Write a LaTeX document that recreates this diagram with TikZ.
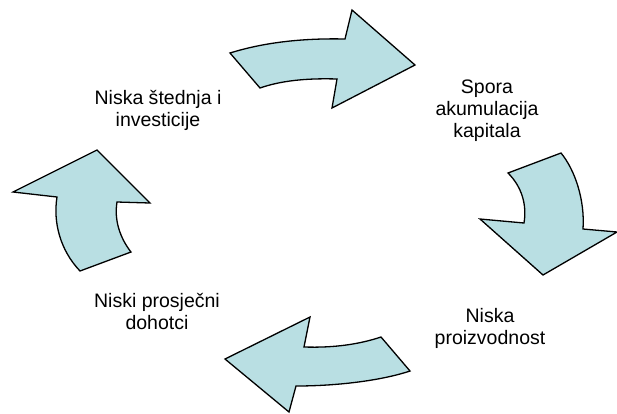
\documentclass[tikz,border=0pt]{standalone}
\usepackage{fontspec}
\setmainfont{Liberation Sans}
\definecolor{arrowfill}{RGB}{185,223,227}
\tikzset{
  cyclearrow/.style={draw=black, fill=arrowfill, line width=1.3pt, line join=miter},
  label/.style={align=center, inner sep=0pt, anchor=base, font=\fontsize{19.5}{22}\selectfont}
}
\begin{document}
\begin{tikzpicture}[x=1pt, y=-1pt]
\useasboundingbox (0,0) rectangle (617,413);
% top arrow
\draw[cyclearrow] (230,53) .. controls (262,43) and (300,38) .. (345,39)
  -- (352,10) -- (415,65) -- (332,108) -- (337,79)
  .. controls (305,78) and (280,81) .. (260,88) -- cycle;
% right arrow
\draw[cyclearrow] (508,173) -- (561,153)
  .. controls (575,170) and (585,200) .. (583,229)
  -- (617,232) -- (543,275) -- (480,219) -- (524,223)
  .. controls (527,205) and (522,187) .. (508,173) -- cycle;
% bottom arrow
\draw[cyclearrow] (381,337) -- (410,371)
  .. controls (380,381) and (335,386) .. (296,386)
  -- (289,412) -- (225,359) -- (310,317) -- (304,347)
  .. controls (335,348) and (360,344) .. (381,337) -- cycle;
% left arrow
\draw[cyclearrow] (80,271) -- (131,252)
  .. controls (120,238) and (114,220) .. (117,202)
  -- (150,203) -- (97,150) -- (13,192) -- (57,197)
  .. controls (53,222) and (60,250) .. (80,271) -- cycle;
% labels (base anchor = last line baseline)
\node[label] (savings) at (158,126) {Niska štednja i\\investicije};
\node[label] (capital) at (487,137) {Spora\\akumulacija\\kapitala};
\node[label] (productivity) at (490,344) {Niska\\proizvodnost};
\node[label] (income) at (157,329) {Niski prosječni\\dohotci};
\end{tikzpicture}
\end{document}
